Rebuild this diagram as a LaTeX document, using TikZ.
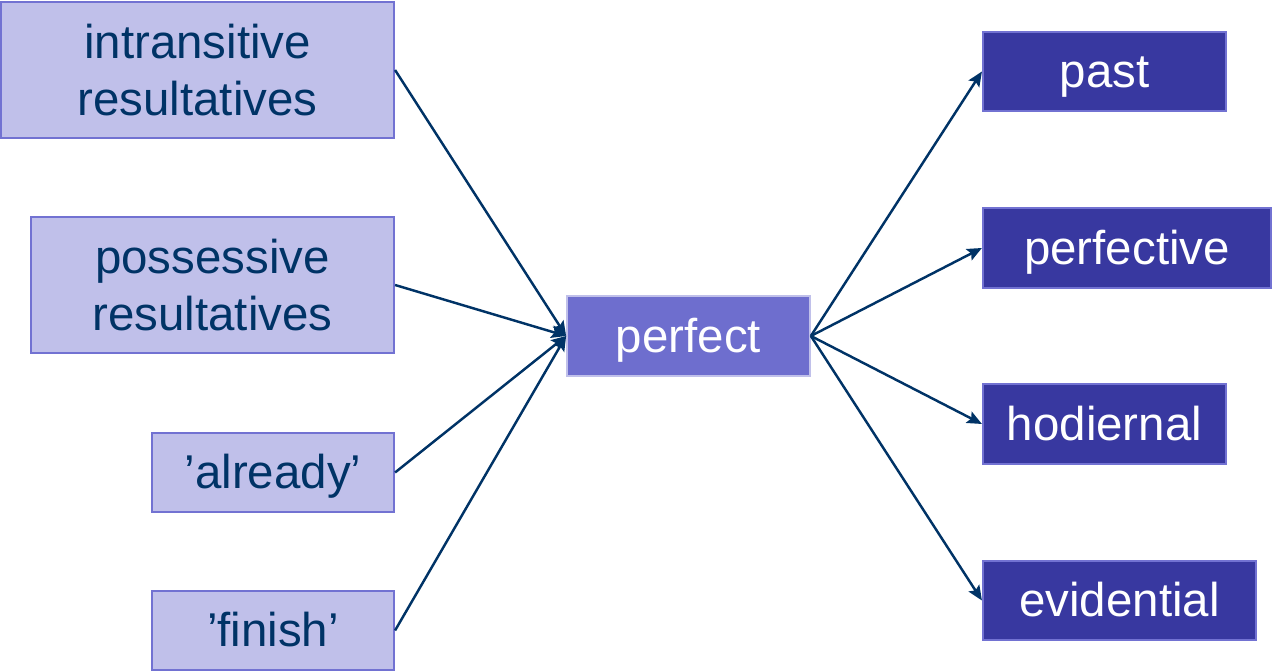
\documentclass[tikz,border=0pt]{standalone}
\usepackage{fontspec}
\setmainfont{Liberation Sans}
\usetikzlibrary{arrows.meta}
\definecolor{navy}{HTML}{003366}
\definecolor{lightlav}{HTML}{C0C0EA}
\definecolor{lavedge}{HTML}{7272D2}
\definecolor{midlav}{HTML}{6E6ECE}
\definecolor{darklav}{HTML}{3838A0}
\begin{document}
\begin{tikzpicture}[>={Stealth[length=4.2pt,width=3.6pt,inset=0.8pt]},
  every node/.style={font=\fontsize{13.5}{16.2}\selectfont, inner sep=0pt, align=center},
  oneline/.style={text height=12.2pt, text depth=2.9pt},
  source/.style={draw=lavedge, line width=0.6pt, fill=lightlav, text=navy},
  middle/.style={draw=lightlav, line width=0.5pt, fill=midlav, text=white, oneline},
  target/.style={draw=lavedge, line width=0.6pt, fill=darklav, text=white, oneline},
  link/.style={draw=navy, line width=0.7pt}]
\useasboundingbox (0,0) rectangle (12.72,-6.71);
% sources
\node[source, minimum width=3.93cm, minimum height=1.36cm] (intr) at (1.975,-0.70) {intransitive\\resultatives};
\node[source, minimum width=3.63cm, minimum height=1.36cm] (poss) at (2.125,-2.85) {possessive\\resultatives};
\node[source, oneline, minimum width=2.42cm, minimum height=0.79cm] (alrd) at (2.73,-4.725) {'already'};
\node[source, oneline, minimum width=2.42cm, minimum height=0.79cm] (fini) at (2.73,-6.305) {'finish'};
% centre
\node[middle, minimum width=2.43cm, minimum height=0.80cm] (perf) at (6.885,-3.36) {perfect};
% targets
\node[target, minimum width=2.43cm, minimum height=0.79cm] (past) at (11.045,-0.715) {past};
\node[target, minimum width=2.88cm, minimum height=0.80cm] (pfv) at (11.27,-2.48) {perfective};
\node[target, minimum width=2.43cm, minimum height=0.80cm] (hod) at (11.045,-4.24) {hodiernal};
\node[target, minimum width=2.73cm, minimum height=0.79cm] (evid) at (11.195,-6.005) {evidential};
% connectors
\draw[link, ->] (intr.east) -- (perf.west);
\draw[link, ->] (poss.east) -- (perf.west);
\draw[link, ->] (alrd.east) -- (perf.west);
\draw[link, ->] (fini.east) -- (perf.west);
\draw[link, ->] (perf.east) -- (past.west);
\draw[link, ->] (perf.east) -- (pfv.west);
\draw[link, ->] (perf.east) -- (hod.west);
\draw[link, ->] (perf.east) -- (evid.west);
\end{tikzpicture}
\end{document}
